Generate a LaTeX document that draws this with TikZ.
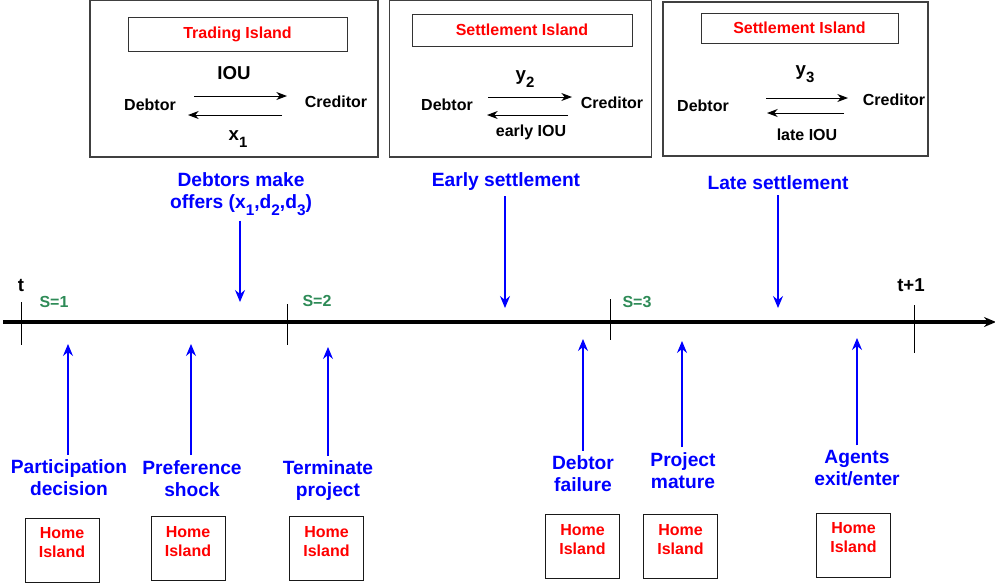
\documentclass[tikz,border=0pt]{standalone}
\usepackage{fontspec}
\usepackage{graphicx}
\setmainfont{Liberation Sans}
\usetikzlibrary{arrows.meta}
\definecolor{sgreen}{RGB}{46,139,87}
\newcommand\mysub[1]{\raisebox{-0.34em}{\scalebox{0.8}{#1}}}
\begin{document}
\begin{tikzpicture}[x=0.75pt,y=-0.75pt,
  frame/.style={draw=black!75, line width=0.9pt, inner sep=0pt},
  redttl/.style={draw=black!80, line width=0.75pt, text=red, inner sep=0pt,
    font=\bfseries\fontsize{12}{14}\selectfont},
  blk/.style={inner sep=0pt, font=\bfseries\fontsize{12}{14}\selectfont},
  blkbig/.style={inner sep=0pt, font=\bfseries\fontsize{14}{16}\selectfont},
  grn/.style={inner sep=0pt, text=sgreen, font=\bfseries\fontsize{12}{14}\selectfont},
  bluelbl/.style={inner sep=1pt, outer sep=3pt, text=blue, align=center,
    font=\bfseries\fontsize{14.4}{16.5}\selectfont},
  homebox/.style={draw=black!90, line width=0.75pt, inner sep=0pt,
    minimum width=55.5pt, minimum height=48pt},
  hometxt/.style={inner sep=0pt, text=red, align=center,
    font=\bfseries\fontsize{12}{14.25}\selectfont},
  smallarr/.style={-{Stealth[length=8pt,width=6pt,inset=2.5pt]}, line width=0.75pt},
  bluearr/.style={-{Stealth[length=9pt,width=7.5pt,inset=3pt]}, draw=blue, line width=0.8pt},
  tick/.style={line width=0.6pt},
  timeline/.style={-{Stealth[length=9pt,width=7.5pt,inset=3pt]}, line width=2.3pt}
]
\useasboundingbox (0,0) rectangle (995,583);

% ---------- top boxes ----------
\node[frame, minimum width=216pt, minimum height=117.75pt] (b1) at (234,78.5) {};
\node[redttl, minimum width=164.25pt, minimum height=25.5pt] (t1) at (237.5,34) {Trading Island};
\node[blkbig] (iou1) at (234,73) {IOU};
\node[blk] (d1) at (150,105) {Debtor};
\node[blk] (c1) at (336,102) {Creditor};
\node[blkbig] (x1) at (238,139) {x\mysub{1}};
\coordinate (a1s) at (194,96); \coordinate (a1e) at (287,96);
\coordinate (a1b) at (282,115); \coordinate (a1f) at (188,115);
\draw[smallarr] (a1s) -- (a1e);
\draw[smallarr] (a1b) -- (a1f);

\node[frame, minimum width=196.5pt, minimum height=117.75pt] (b2) at (520.5,78.5) {};
\node[redttl, minimum width=165pt, minimum height=24pt] (t2) at (522,30) {Settlement Island};
\node[blkbig] (y2) at (525,79) {y\mysub{2}};
\node[blk] (d2) at (447,105) {Debtor};
\node[blk] (c2) at (612,103) {Creditor};
\node[blk] (e2) at (531,132) {early IOU};
\coordinate (a2s) at (488,97); \coordinate (a2e) at (572,97);
\coordinate (a2b) at (568,115); \coordinate (a2f) at (487,115);
\draw[smallarr] (a2s) -- (a2e);
\draw[smallarr] (a2b) -- (a2f);

\node[frame, minimum width=198.75pt, minimum height=115.5pt] (b3) at (795.5,79) {};
\node[redttl, minimum width=147.75pt, minimum height=22.5pt] (t3) at (799.5,28) {Settlement Island};
\node[blkbig] (y3) at (805,74) {y\mysub{3}};
\node[blk] (d3) at (703,106) {Debtor};
\node[blk] (c3) at (894,100) {Creditor};
\node[blk] (l3) at (807,135) {late IOU};
\coordinate (a3s) at (766,98); \coordinate (a3e) at (848,98);
\coordinate (a3b) at (844,113); \coordinate (a3f) at (767,113);
\draw[smallarr] (a3s) -- (a3e);
\draw[smallarr] (a3b) -- (a3f);

% ---------- timeline ----------
\coordinate (tl0) at (3,322); \coordinate (tl1) at (996,322);
\draw[timeline] (tl0) -- (tl1);
\coordinate (k0a) at (21,302);  \coordinate (k0b) at (21,345);
\coordinate (k1a) at (287,304); \coordinate (k1b) at (287,345);
\coordinate (k2a) at (610,299); \coordinate (k2b) at (610,340);
\coordinate (k3a) at (914,305); \coordinate (k3b) at (914,353);
\draw[tick] (k0a) -- (k0b);
\draw[tick] (k1a) -- (k1b);
\draw[tick] (k2a) -- (k2b);
\draw[tick] (k3a) -- (k3b);
\node[blkbig] (lt) at (21,285) {t};
\node[blkbig] (lt1) at (911,285) {t+1};
\node[grn] (s1) at (54,302) {S=1};
\node[grn] (s2) at (317,301) {S=2};
\node[grn] (s3) at (637,302) {S=3};

% ---------- upper events ----------
\node[bluelbl] (offers) at (241,194) {Debtors make\\offers (x\mysub{1},d\mysub{2},d\mysub{3})};
\node[bluelbl] (early) at (506,182) {Early settlement};
\node[bluelbl] (late) at (778,183) {Late settlement};
\coordinate (p1) at (240,302);
\coordinate (p2) at (505,308);
\coordinate (p3) at (778,308);
\draw[bluearr] (offers.south -| p1) -- (p1);
\draw[bluearr] (early.south -| p2) -- (p2);
\draw[bluearr] (late.south -| p3) -- (p3);

% ---------- lower events ----------
\node[bluelbl] (e1) at (69,478) {Participation\\decision};
\node[bluelbl] (e2) at (192,478.5) {Preference\\shock};
\node[bluelbl] (e3) at (328,481) {Terminate\\project};
\node[bluelbl] (e4) at (583,474) {Debtor\\failure};
\node[bluelbl] (e5) at (683,470.5) {Project\\mature};
\node[bluelbl] (e6) at (857,468.5) {Agents\\exit/enter};
\coordinate (q1) at (68,344);
\coordinate (q2) at (191,344);
\coordinate (q3) at (328,347);
\coordinate (q4) at (583,339);
\coordinate (q5) at (682,341);
\coordinate (q6) at (857,338);
\draw[bluearr] (e1.north -| q1) -- (q1);
\draw[bluearr] (e2.north -| q2) -- (q2);
\draw[bluearr] (e3.north -| q3) -- (q3);
\draw[bluearr] (e4.north -| q4) -- (q4);
\draw[bluearr] (e5.north -| q5) -- (q5);
\draw[bluearr] (e6.north -| q6) -- (q6);

% ---------- home islands ----------
\node[homebox] (h1) at (62,550) {};
\node[homebox] (h2) at (188,548.5) {};
\node[homebox] (h3) at (326.5,548.5) {};
\node[homebox] (h4) at (582.5,546.5) {};
\node[homebox] (h5) at (680.5,546.5) {};
\node[homebox] (h6) at (853.5,545) {};
\node[hometxt] (ht1) at (62,542.5) {Home\\Island};
\node[hometxt] (ht2) at (188,541.5) {Home\\Island};
\node[hometxt] (ht3) at (326.5,541.5) {Home\\Island};
\node[hometxt] (ht4) at (582.5,539.5) {Home\\Island};
\node[hometxt] (ht5) at (680.5,539.5) {Home\\Island};
\node[hometxt] (ht6) at (853.5,537.5) {Home\\Island};
\end{tikzpicture}
\end{document}
